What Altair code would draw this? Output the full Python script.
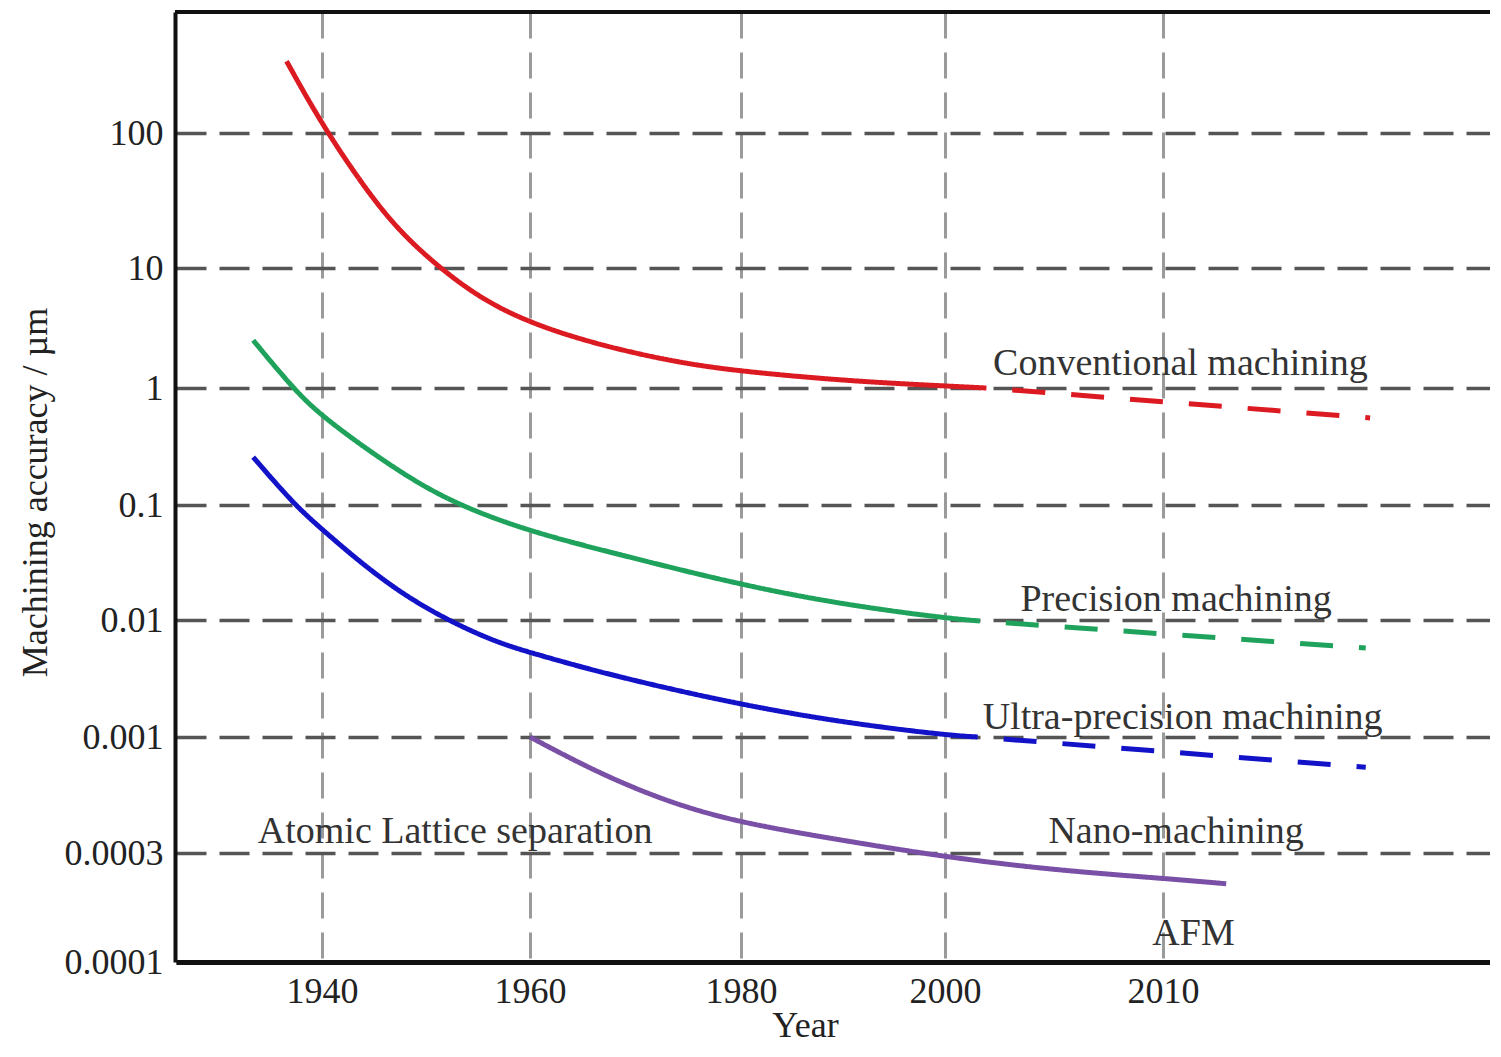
import altair as alt
import pandas as pd

# ---- data ----
conv_year = [1936.6, 1940.0, 1944.3, 1947.5, 1951.3, 1955.5, 1960.0, 1965.0, 1969.8, 1975.0, 1980.6, 1990.7, 2000.0, 2001.9]
conv_value = [340, 115, 37.2, 18.5, 10, 5.4, 3.5, 2.51, 1.96, 1.58, 1.36, 1.14, 1.04, 1.0]
conv_trend_year = [2001.9, 2019.5]
conv_trend_value = [1.0, 0.555]

prec_year = [1933.4, 1937.2, 1940.0, 1947.5, 1953.0, 1960.2, 1968.0, 1980.0, 1990.3, 2000.0, 2001.6]
prec_value = [2.5, 1.0, 0.565, 0.188, 0.1, 0.058, 0.038, 0.0201, 0.0135, 0.0104, 0.0098]
prec_trend_year = [2001.6, 2019.3]
prec_trend_value = [0.0098, 0.00576]

ultra_year = [1933.4, 1937.2, 1940.0, 1947.5, 1955.7, 1960.2, 1968.0, 1980.0, 1990.3, 2000.0, 2001.5]
ultra_value = [0.257, 0.104, 0.061, 0.0162, 0.0069, 0.0052, 0.0033, 0.00188, 0.00132, 0.00104, 0.001]
ultra_trend_year = [2001.5, 2019.3]
ultra_trend_value = [0.001, 0.00073]

nano_year = [1960.0, 1966.4, 1973.3, 1980.0, 1989.6, 2000.0, 2005.1, 2010.1, 2012.9]
nano_value = [0.001, 0.00069, 0.000504, 0.00041, 0.000344, 0.000288, 0.000252, 0.000232, 0.00022]

series_names = ["Conventional", "Precision", "Ultra-precision", "Nano"]
series_colors = ["#dc1a22", "#1fa35c", "#1212c8", "#7a4fa6"]

label_text = ["Conventional machining", "Precision machining", "Ultra-precision machining",
              "Atomic Lattice separation", "Nano-machining", "AFM"]
label_year = [2010.8, 2010.6, 2010.9, 1952.8, 2010.6, 2011.4]
label_value = [1.6, 0.0149, 0.00145, 0.000373, 0.000373, 0.000132]

x_ticks = [1940, 1960, 1980, 2000, 2010]
y_ticks = [0.0001, 0.0003, 0.001, 0.01, 0.1, 1, 10, 100]

# ---- build tables ----
rows = []
def add(name, style, years, values):
    for i, (yr, v) in enumerate(zip(years, values)):
        rows.append({"series": name, "style": style, "grp": name + "-" + style,
                     "order": i, "year": yr, "value": v})

add("Conventional", "solid", conv_year, conv_value)
add("Conventional", "dashed", conv_trend_year, conv_trend_value)
add("Precision", "solid", prec_year, prec_value)
add("Precision", "dashed", prec_trend_year, prec_trend_value)
add("Ultra-precision", "solid", ultra_year, ultra_value)
add("Ultra-precision", "dashed", ultra_trend_year, ultra_trend_value)
add("Nano", "solid", nano_year, nano_value)
df = pd.DataFrame(rows)

labels = pd.DataFrame({"text": label_text, "year": label_year, "value": label_value})

W, H = 1315, 950
FONT = "Liberation Serif"

# piecewise scales reproduce the irregular spacing of the original axes
x_scale = alt.Scale(type="linear", domain=[1926, 1940, 1960, 1980, 2000, 2010, 2025],
                    range=[1, 147, 355, 566, 770, 988, 1315], nice=False, zero=False)
y_scale = alt.Scale(type="log", domain=[0.0001, 0.0003, 0.001, 0.01, 0.1, 1, 10, 100, 787],
                    range=[950, 841, 725, 608, 493, 376, 256, 121, 0], nice=False)

x_axis = alt.Axis(values=x_ticks, format="d", title="Year", grid=True,
                  gridColor="#9a9a9a", gridDash=[26, 14], gridWidth=3,
                  domainColor="#111", domainWidth=5, ticks=False,
                  labelFont=FONT, labelFontSize=36, labelColor="#222", labelPadding=12,
                  titleFont=FONT, titleFontSize=36, titleFontWeight="normal", titleColor="#222",
                  titleX=630, titleY=74, titleBaseline="alphabetic", titleAlign="center")
y_axis = alt.Axis(values=y_ticks, format="~f", title="Machining accuracy / µm", grid=True,
                  gridColor="#555555", gridDash=[30, 13], gridWidth=3.5,
                  domainColor="#111", domainWidth=4, ticks=False,
                  labelFont=FONT, labelFontSize=36, labelColor="#222", labelPadding=12,
                  titleFont=FONT, titleFontSize=36, titleFontWeight="normal", titleColor="#222",
                  titleX=-140, titleY=480, titleAngle=-90, titleAlign="center", titleBaseline="middle")

x_enc = alt.X("year:Q", scale=x_scale, axis=x_axis)
y_enc = alt.Y("value:Q", scale=y_scale, axis=y_axis)

lines = alt.Chart(df).mark_line(strokeWidth=5, interpolate="basis", strokeDashOffset=33).encode(
    x=x_enc, y=y_enc,
    color=alt.Color("series:N", scale=alt.Scale(domain=series_names, range=series_colors), legend=None),
    strokeDash=alt.StrokeDash("style:N", scale=alt.Scale(domain=["solid", "dashed"], range=[[1, 0], [33, 26]]), legend=None),
    detail="grp:N",
    order="order:Q",
)

texts = alt.Chart(labels).mark_text(font=FONT, fontSize=38, color="#333", align="center", baseline="middle").encode(
    x=x_enc, y=y_enc, text="text:N"
)

top_rule = alt.Chart(alt.Data(values=[{}])).mark_rule(color="#111", strokeWidth=4).encode(
    x=alt.value(0), x2=alt.value(W), y=alt.value(0)
)

chart = alt.layer(lines, texts, top_rule).properties(
    width=W, height=H,
    autosize=alt.AutoSizeParams(type="none"),
    padding={"left": 167, "top": 4, "right": 0, "bottom": 85},
    background="white",
).configure_view(stroke=None)

chart.save("out.html", embed_options={"renderer": "svg", "actions": False})
